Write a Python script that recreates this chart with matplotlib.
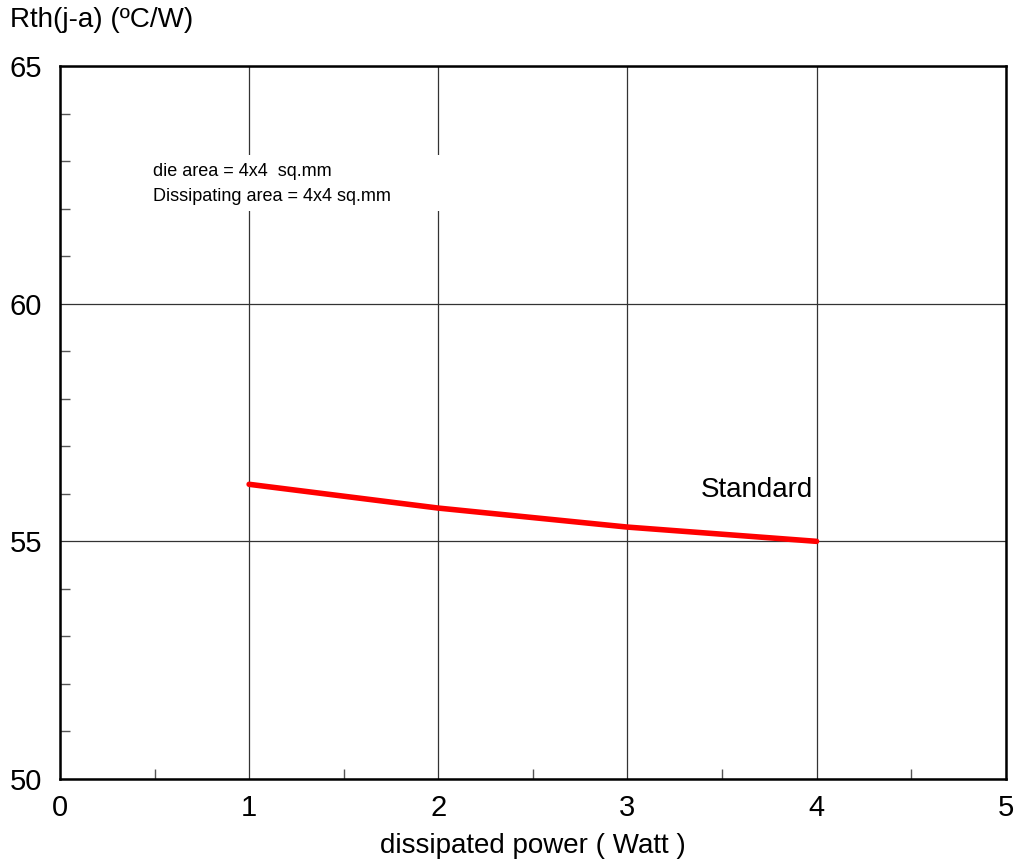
import matplotlib
matplotlib.use("Agg")
import matplotlib.pyplot as plt
from matplotlib.patches import Rectangle
from matplotlib.ticker import MultipleLocator

plt.rcParams["font.family"] = ["Liberation Sans", "DejaVu Sans"]

power = [1, 2, 3, 4]
rth_standard = [56.2, 55.7, 55.3, 55.0]
x_ticks = [0, 1, 2, 3, 4, 5]
y_ticks = [50, 55, 60, 65]

fig = plt.figure(figsize=(10.2, 8.65), dpi=100)
ax = fig.add_axes([0.0588, 0.0994, 0.9272, 0.8243])

ax.plot(power, rth_standard, color="#ff0000", lw=4, solid_capstyle="round", zorder=3)

ax.set_xlim(0, 5)
ax.set_ylim(50, 65)
ax.set_xticks(x_ticks)
ax.set_yticks(y_ticks)
ax.xaxis.set_minor_locator(MultipleLocator(0.5))
ax.yaxis.set_minor_locator(MultipleLocator(1))
ax.tick_params(which="major", length=0, labelsize=21)
ax.tick_params(axis="x", which="major", pad=11)
ax.tick_params(axis="y", which="major", pad=13)
ax.tick_params(which="minor", direction="in", length=7, width=1, color="#555555")
ax.grid(which="major", color="#333333", lw=0.9)
for s in ax.spines.values():
    s.set_linewidth(1.8)

ax.set_xlabel("dissipated power ( Watt )", fontsize=20, labelpad=8)
fig.text(0.01, 0.992, "Rth(j-a) (ºC/W)", fontsize=20, ha="left", va="top")

# white box behind the note hides the grid lines
ax.add_patch(Rectangle((0.42, 61.95), 1.62, 1.18, facecolor="white",
                       edgecolor="none", zorder=2.5))
ax.text(0.49, 62.52, "die area = 4x4  sq.mm\nDissipating area = 4x4 sq.mm",
        fontsize=13, ha="left", va="center", linespacing=1.65, zorder=4)
ax.text(3.98, 55.93, "Standard", fontsize=20, ha="right", va="baseline")

fig.savefig("out.png", dpi=100)
